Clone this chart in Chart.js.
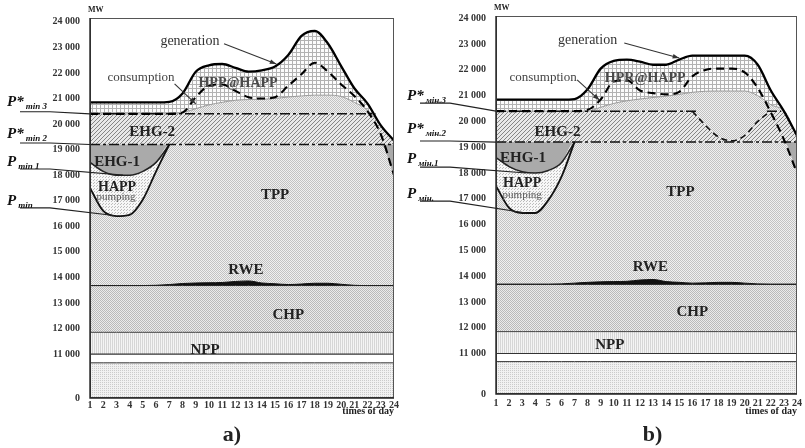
<!DOCTYPE html>
<html>
<head>
<meta charset="utf-8">
<script src="https://cdn.jsdelivr.net/npm/chart.js@4/dist/chart.umd.min.js"></script>
<style>
  html, body { margin: 0; padding: 0; background: #fff; }
  body { width: 805px; height: 448px; position: relative; overflow: hidden; }
  canvas { position: absolute; top: 0; }
  #chartA { left: 0; }
  #chartB { left: 400px; }
</style>
</head>
<body>
<canvas id="chartA" width="400" height="448"></canvas>
<canvas id="chartB" width="405" height="448"></canvas>
<script>
// ---- data (MW, hours of day) ----
const hours  = [1, 2, 3, 4, 5, 6, 7, 8, 9, 10, 11, 12, 13, 14, 15, 16, 17, 18, 19, 20, 21, 22, 23, 24];
const yTicks = [0, 11000, 12000, 13000, 14000, 15000, 16000, 17000, 18000, 19000, 20000, 21000, 22000, 23000, 24000];

const nppBase = 8800;
const nppMid  = 11000;
const nppTop  = 11850;
const chpTop  = 13680;
const pMin2   = 19200;   // P*min 2
const pMin3   = 20400;   // P*min 3

const rweA = [13680, 13680, 13680, 13680, 13680, 13690, 13720, 13760, 13780, 13790, 13800, 13840, 13860, 13780, 13750, 13720, 13740, 13770, 13770, 13730, 13690, 13680, 13680, 13680];
const rweB = [13690, 13690, 13690, 13690, 13690, 13700, 13730, 13760, 13780, 13790, 13800, 13850, 13870, 13790, 13760, 13730, 13740, 13760, 13760, 13730, 13700, 13690, 13690, 13690];

// night valley, hours 1..7
const pMinA  = [17500, 16600, 16400, 16450, 17050, 18150, 19200];
const pMin1A = [18500, 18150, 18000, 18000, 18150, 18500, 19200];
const pMinB  = [17500, 16650, 16450, 16450, 16950, 17850, 19200];
const pMin1B = [18600, 18250, 18050, 18000, 18100, 18400, 19200];

const genA  = [20850, 20850, 20850, 20850, 20850, 20850, 20870, 21200, 22050, 22300, 22350, 22200, 22050, 22100, 22250, 22700, 23450, 23650, 23150, 22270, 21400, 20800, 19950, 19350];
const genB  = [20850, 20850, 20850, 20850, 20850, 20850, 20870, 21250, 22050, 22350, 22400, 22320, 22200, 22200, 22400, 22550, 22550, 22550, 22550, 22550, 22200, 21200, 20400, 19450];
const consA = [20400, 20400, 20400, 20400, 20400, 20400, 20400, 20450, 21050, 21500, 21550, 21300, 21050, 21000, 21050, 21500, 21950, 22400, 22050, 21550, 21100, 20500, 19600, 18000];
const consB = [20400, 20400, 20400, 20400, 20400, 20400, 20400, 20450, 20850, 21550, 21600, 21200, 21100, 21050, 21150, 21750, 22000, 22050, 22050, 21900, 21300, 20350, 19300, 18000];
const tppUpA = [20400, 20400, 20400, 20400, 20400, 20400, 20400, 20450, 20600, 20750, 20850, 20930, 20960, 20970, 21000, 21060, 21100, 21130, 21130, 21080, 20850, 20550, 20300, 19400];
const tppUpB = [20400, 20400, 20400, 20400, 20400, 20400, 20400, 20400, 20550, 20700, 20800, 20870, 20930, 20980, 21050, 21130, 21170, 21180, 21180, 21180, 21000, 20650, 20400, 19500];
const dipB   = [null, null, null, null, null, null, null, null, null, null, null, null, null, null, null, 20400, 19850, 19400, 19250, 19450, 20000, 20400, null, null];

const p3SpansA = [[1, 22.6]];
const p3SpansB = [[1, 16.3], [21.7, 22.8]];

const SERIF = '"Liberation Serif", "Times New Roman", serif';

// broken axis: 0..11000 squeezed, then 1000 MW per unit
const toAxis = (v, brk) => v == null ? null : (v >= 11000 ? brk + (v - 11000) / 1000 : v / 11000 * brk);
const fmtTick = v => String(v).replace(/\B(?=(\d{3})+(?!\d))/g, ' ');

// textures
const makePattern = (w, h, bg, fg, cells) => {
  const c = document.createElement('canvas');
  c.width = w; c.height = h;
  const g = c.getContext('2d');
  g.fillStyle = bg; g.fillRect(0, 0, w, h);
  g.fillStyle = fg;
  cells.forEach(([x, y]) => g.fillRect(x, y, 1, 1));
  return g.createPattern(c, 'repeat');
};
const patNppLow = makePattern(2, 2, '#f1f1f1', '#cbcbcb', [[0, 0]]);
const patNpp    = makePattern(2, 1, '#f4f4f4', '#d6d6d6', [[0, 0]]);
const patChp    = makePattern(2, 2, '#ebebeb', '#bababa', [[0, 0], [1, 1]]);
const patTpp    = makePattern(2, 2, '#f0f0f0', '#c2c2c2', [[0, 0], [1, 1]]);
const patHapp   = makePattern(3, 3, '#f7f7f7', '#bdbdbd', [[0, 0], [1, 2]]);
const patHatch  = makePattern(4, 4, '#e8e8e8', '#858585', [[3, 0], [2, 1], [1, 2], [0, 3]]);
const patGrid   = makePattern(4, 4, '#fcfcfc', '#b2b2b2', [[0, 0], [1, 0], [2, 0], [3, 0], [0, 1], [0, 2], [0, 3]]);

const arrow = (ctx, x0, y0, x1, y1) => {
  ctx.beginPath(); ctx.moveTo(x0, y0); ctx.lineTo(x1, y1); ctx.stroke();
  const a = Math.atan2(y1 - y0, x1 - x0);
  ctx.beginPath();
  ctx.moveTo(x1, y1);
  ctx.lineTo(x1 - 7 * Math.cos(a - 0.35), y1 - 7 * Math.sin(a - 0.35));
  ctx.lineTo(x1 - 7 * Math.cos(a + 0.35), y1 - 7 * Math.sin(a + 0.35));
  ctx.closePath(); ctx.fill();
};

// frame, labels, leaders
const notesPlugin = (n, brk) => ({
  id: 'notes',
  afterDraw(chart) {
    const { ctx, chartArea: a, scales: { x, y } } = chart;
    const px = h => x.getPixelForValue(h);
    const py = v => y.getPixelForValue(toAxis(v, brk));
    ctx.save();
    ctx.strokeStyle = '#555'; ctx.lineWidth = 1;
    ctx.strokeRect(a.left + 0.5, a.top + 0.5, a.width - 1, a.height - 1);
    ctx.strokeStyle = '#222'; ctx.lineWidth = 1.4;
    ctx.beginPath(); ctx.moveTo(a.left, a.top); ctx.lineTo(a.left, a.bottom); ctx.lineTo(a.right, a.bottom); ctx.stroke();

    ctx.textAlign = 'center'; ctx.textBaseline = 'middle';
    n.labels.forEach(([t, h, v, font, col]) => {
      ctx.font = `${font} ${SERIF}`;
      ctx.fillStyle = col;
      ctx.fillText(t, px(h), py(v));
    });

    ctx.strokeStyle = '#333'; ctx.fillStyle = '#333'; ctx.lineWidth = 1.1;
    n.arrows.forEach(([h0, v0, h1, v1]) => arrow(ctx, px(h0), py(v0), px(h1), py(v1)));

    ctx.fillStyle = '#111'; ctx.strokeStyle = '#222'; ctx.lineWidth = 1.1;
    ctx.textAlign = 'left'; ctx.textBaseline = 'alphabetic';
    n.leaders.forEach(l => {
      const yb = py(l.base), yu = py(l.under);
      ctx.font = `italic bold 15px ${SERIF}`;
      ctx.fillText(l.main, 7, yb);
      const w = ctx.measureText(l.main).width;
      ctx.font = `italic bold 9px ${SERIF}`;
      ctx.fillText(l.sub, 7 + w + 2, yb + 3);
      ctx.beginPath();
      ctx.moveTo(20, yu); ctx.lineTo(50, yu); ctx.lineTo(px(l.to[0]), py(l.to[1]));
      ctx.stroke();
    });

    ctx.fillStyle = '#222';
    ctx.font = `bold 8px ${SERIF}`;
    ctx.textBaseline = 'middle';
    ctx.fillText('MW', a.left - 2, a.top - 8);
    ctx.font = `bold 10px ${SERIF}`;
    ctx.textAlign = 'right';
    ctx.fillText('times of day', a.right, 411);
    ctx.font = `bold 22px ${SERIF}`;
    ctx.textAlign = 'center';
    ctx.fillText(n.letter, px(n.letterHour), 435);
    ctx.restore();
  }
});

const makeChart = (id, p) => {
  const ax = v => toAxis(v, p.brk);
  const pts = arr => arr.map((v, i) => ({ x: hours[i], y: v == null ? null : ax(v) }));
  const flat = lvl => hours.map(() => lvl);

  const tppTop  = hours.map((h, i) => i < p.pMin.length ? p.pMin[i] : Math.min(pMin2, p.cons[i]));
  const happTop = hours.map((h, i) => i < p.pMin1.length ? p.pMin1[i] : tppTop[i]);
  const ehg2Top = hours.map((h, i) => Math.min(p.dip && p.dip[i] != null ? p.dip[i] : pMin3, p.gen[i]));
  const upTop   = hours.map((h, i) => Math.max(ehg2Top[i], Math.min(p.tppUp[i], p.gen[i])));
  const p3Line  = p.p3Spans.flatMap(([h0, h1]) => [{ x: h0, y: ax(pMin3) }, { x: h1, y: ax(pMin3) }, { x: h1, y: null }]);

  const band = (data, bg, extra) => Object.assign({ data: pts(data), fill: '-1', backgroundColor: bg, borderWidth: 0, order: 5 }, extra);
  const curve = (data, col, w, extra) => Object.assign({ data: pts(data), fill: false, borderColor: col, borderWidth: w, cubicInterpolationMode: 'monotone', order: 2 }, extra);

  const datasets = [
    { data: pts(flat(nppBase)), fill: 'origin', backgroundColor: patNppLow, borderColor: '#333', borderWidth: 1, order: 5 },
    { data: pts(flat(nppMid)), fill: false, borderColor: '#333', borderWidth: 1.2, order: 5 },
    band(flat(nppTop), patNpp, { borderColor: '#444', borderWidth: 1 }),
    band(flat(chpTop), patChp, { borderColor: '#222', borderWidth: 1 }),
    band(p.rwe, '#111', { borderColor: '#111', borderWidth: 1, cubicInterpolationMode: 'monotone' }),
    band(tppTop, patTpp, { cubicInterpolationMode: 'monotone' }),
    band(happTop, patHapp, { cubicInterpolationMode: 'monotone' }),
    band(flat(pMin2), '#aaaaaa', { borderColor: '#111', borderWidth: 1.5, borderDash: [10, 3, 3, 3], order: 2 }),
    band(ehg2Top, patHatch, { cubicInterpolationMode: 'monotone' }),
    band(upTop, patTpp, { borderColor: '#9a9a9a', borderWidth: 1, cubicInterpolationMode: 'monotone' }),
    band(p.gen, patGrid, { borderColor: '#000', borderWidth: 2.3, cubicInterpolationMode: 'monotone', order: 0 }),
    curve(p.pMin, '#111', 1.8),
    curve(p.pMin1, '#222', 1.5),
    curve(p.cons, '#000', 2.1, { borderDash: [8, 5], order: 1 }),
    { data: p3Line, fill: false, borderColor: '#111', borderWidth: 1.5, borderDash: [10, 3, 3, 3], order: 2 }
  ];
  if (p.dip) datasets.push(curve(p.dip, '#111', 1.6, { borderDash: [6, 4] }));

  return new Chart(document.getElementById(id), {
    type: 'line',
    data: { datasets },
    options: {
      responsive: false,
      animation: false,
      events: [],
      layout: { padding: p.pad },
      elements: { point: { radius: 0 }, line: { borderJoinStyle: 'round' } },
      plugins: {
        legend: { display: false },
        tooltip: { enabled: false },
        filler: { drawTime: 'beforeDatasetsDraw' }
      },
      scales: {
        x: {
          type: 'linear', min: 1, max: 24,
          grid: { display: false, drawTicks: false },
          border: { display: false },
          afterBuildTicks: s => { s.ticks = hours.map(h => ({ value: h })); },
          afterFit: s => { s.height = p.xH; },
          ticks: { autoSkip: false, maxRotation: 0, padding: p.xPad, color: '#333', font: { family: SERIF, size: 10, weight: 'bold' }, callback: v => v }
        },
        y: {
          type: 'linear', min: 0, max: ax(p.top),
          grid: { display: false, drawTicks: false },
          border: { display: false },
          afterBuildTicks: s => { s.ticks = yTicks.map(v => ({ value: ax(v) })); },
          afterFit: s => { s.width = p.yW; },
          ticks: { autoSkip: false, padding: 10, color: '#333', font: { family: SERIF, size: 10, weight: 'bold' }, callback: (v, i) => fmtTick(yTicks[i]) }
        }
      }
    },
    plugins: [notesPlugin(p.notes, p.brk)]
  });
};

makeChart('chartA', {
  brk: 1.72, top: 24150, yW: 90, xH: 50, xPad: 1,
  pad: { top: 18, right: 6, left: 0, bottom: 0 },
  rwe: rweA, pMin: pMinA, pMin1: pMin1A, gen: genA, cons: consA, tppUp: tppUpA, dip: null, p3Spans: p3SpansA,
  notes: {
    letter: 'a)', letterHour: 11.74,
    labels: [
      ['generation', 8.56, 23220, '14px', '#333'],
      ['consumption', 4.86, 21810, '13px', '#444'],
      ['HPP@HAPP', 12.2, 21610, 'bold 14px', '#4a4a4a'],
      ['EHG-2', 5.7, 19690, 'bold 15px', '#222'],
      ['EHG-1', 3.05, 18520, 'bold 15px', '#222'],
      ['HAPP', 3.05, 17540, 'bold 14px', '#222'],
      ['pumping', 2.97, 17150, '11px', '#555'],
      ['TPP', 15.0, 17230, 'bold 15px', '#222'],
      ['RWE', 12.8, 14290, 'bold 15px', '#222'],
      ['CHP', 16.0, 12530, 'bold 15px', '#222'],
      ['NPP', 9.7, 11160, 'bold 15px', '#222']
    ],
    arrows: [[11.14, 23140, 15.1, 22350], [7.4, 21570, 9.0, 20790]],
    leaders: [
      { main: 'P*', sub: 'min 3', base: 20710, under: 20480, to: [1, 20400] },
      { main: 'P*', sub: 'min 2', base: 19460, under: 19260, to: [1, 19200] },
      { main: 'P', sub: 'min 1', base: 18360, under: 18240, to: [3.5, 18000] },
      { main: 'P', sub: 'min', base: 16830, under: 16720, to: [2.8, 16420] }
    ]
  }
});

makeChart('chartB', {
  brk: 1.57, top: 24090, yW: 96, xH: 54, xPad: 3,
  pad: { top: 16, right: 7, left: 0, bottom: 0 },
  rwe: rweB, pMin: pMinB, pMin1: pMin1B, gen: genB, cons: consB, tppUp: tppUpB, dip: dipB, p3Spans: p3SpansB,
  notes: {
    letter: 'b)', letterHour: 12.96,
    labels: [
      ['generation', 8.0, 23160, '14px', '#333'],
      ['consumption', 4.6, 21720, '13px', '#444'],
      ['HPR@HAPP', 12.4, 21680, 'bold 14px', '#4a4a4a'],
      ['EHG-2', 5.7, 19590, 'bold 15px', '#222'],
      ['EHG-1', 3.06, 18580, 'bold 15px', '#222'],
      ['HAPP', 3.0, 17610, 'bold 14px', '#222'],
      ['pumping', 3.0, 17150, '11px', '#555'],
      ['TPP', 15.1, 17260, 'bold 15px', '#222'],
      ['RWE', 12.8, 14360, 'bold 15px', '#222'],
      ['CHP', 16.0, 12610, 'bold 15px', '#222'],
      ['NPP', 9.7, 11330, 'bold 15px', '#222']
    ],
    arrows: [[10.8, 23040, 15.0, 22460], [7.2, 21610, 8.9, 20830]],
    leaders: [
      { main: 'P*', sub: 'мін.3', base: 20830, under: 20710, to: [1, 20400] },
      { main: 'P*', sub: 'мін.2', base: 19550, under: 19240, to: [1, 19200] },
      { main: 'P', sub: 'мін.1', base: 18390, under: 18230, to: [3.3, 18000] },
      { main: 'P', sub: 'мін.', base: 17030, under: 16910, to: [3.3, 16450] }
    ]
  }
});
</script>
</body>
</html>
